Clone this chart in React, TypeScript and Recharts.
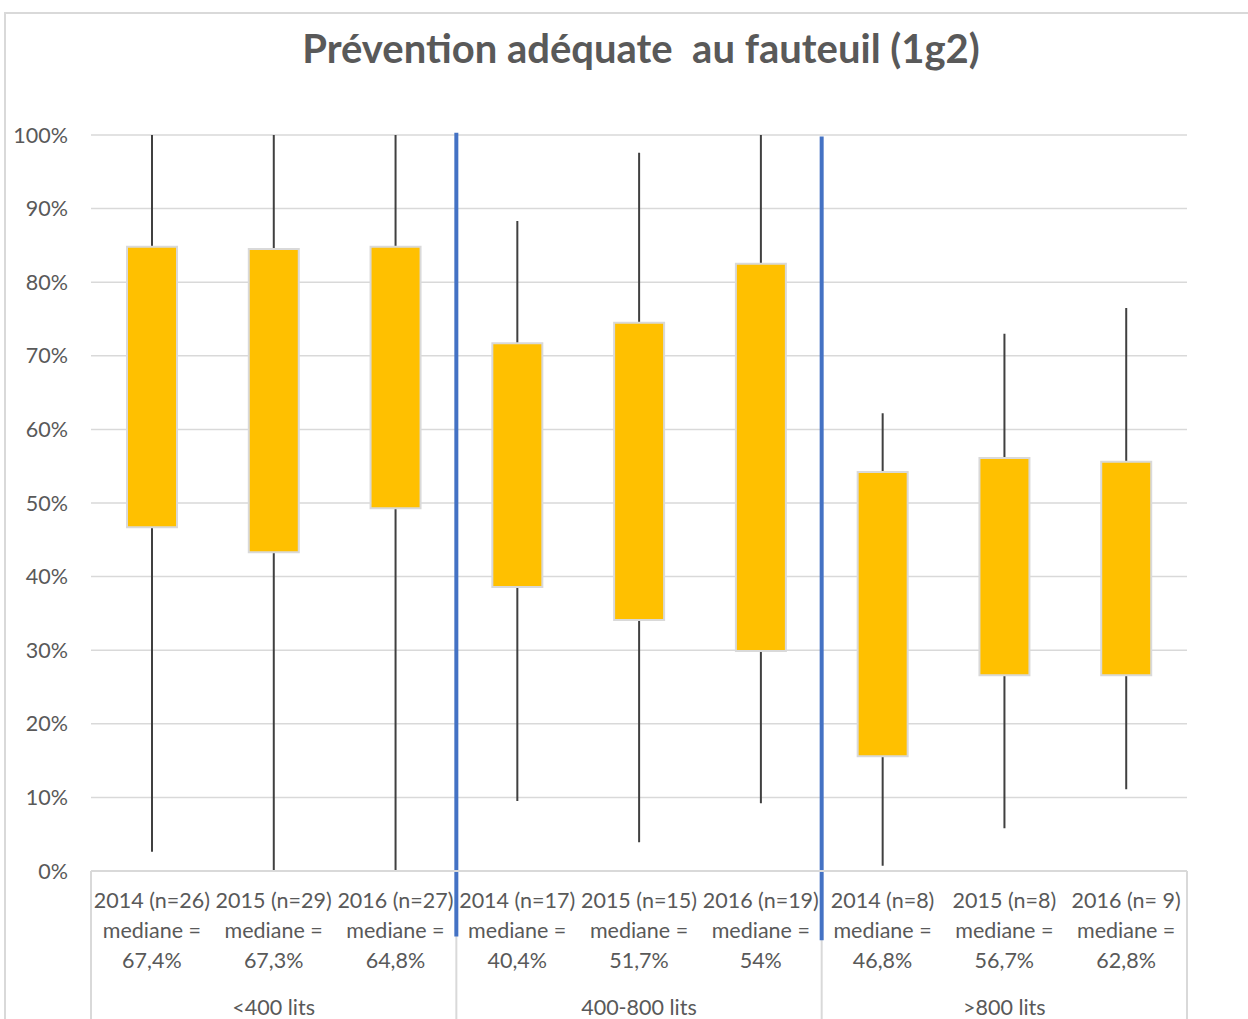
import React from 'react'
import {
  ComposedChart,
  Bar,
  XAxis,
  YAxis,
  CartesianGrid,
  ReferenceLine,
} from 'recharts'

const categories = [
  '2014 (n=26)', '2015 (n=29)', '2016 (n=27)',
  '2014 (n=17)', '2015 (n=15)', '2016 (n=19)',
  '2014 (n=8)', '2015 (n=8)', '2016 (n= 9)',
]
const medians = ['67,4%', '67,3%', '64,8%', '40,4%', '51,7%', '54%', '46,8%', '56,7%', '62,8%']
const minValues = [2.6, 0, 0, 9.5, 3.9, 9.2, 0.7, 5.8, 11.1]
const q1Values = [46.7, 43.3, 49.3, 38.6, 34.1, 29.9, 15.6, 26.6, 26.6]
const q3Values = [84.8, 84.5, 84.8, 71.7, 74.5, 82.5, 54.2, 56.1, 55.6]
const maxValues = [100, 100, 100, 88.3, 97.6, 100, 62.2, 73.0, 76.5]
const groups = ['<400 lits', '400-800 lits', '>800 lits']
const groupTicks = [1.5, 4.5, 7.5]
const groupBounds = [0, 3, 6, 9]
const blueBounds = [3, 6]
const yTicks = [0, 10, 20, 30, 40, 50, 60, 70, 80, 90, 100]

const data = categories.map((name, i) => ({
  name,
  pos: i + 0.5,
  whisker: [minValues[i], maxValues[i]],
  box: [q1Values[i], q3Values[i]],
}))

const FONT = 'Lato, "Liberation Sans", sans-serif'
const TEXT = '#595959'
const LIGHT = '#D9D9D9'

const CategoryTick = (props: any) => {
  const { x, y, payload, index } = props
  return (
    <text x={x} y={y} textAnchor="middle" fill={TEXT} fontSize={21.5} fontFamily={FONT}>
      <tspan x={x} dy={29}>{payload.value}</tspan>
      <tspan x={x} dy={30}>mediane =</tspan>
      <tspan x={x} dy={30}>{medians[index]}</tspan>
    </text>
  )
}

const GroupTick = (props: any) => {
  const { x, y, payload } = props
  return (
    <text x={x} y={y} dy={36} textAnchor="middle" fill={TEXT} fontSize={21.5} fontFamily={FONT}>
      {groups[groupTicks.indexOf(payload.value)]}
    </text>
  )
}

export default function App() {
  return (
    <div style={{ position: 'fixed', left: 0, top: 0, width: 1248, height: 1019, background: '#fff', overflow: 'hidden' }}>
      <div
        style={{
          position: 'absolute', left: 4, top: 12, width: 1260, height: 1020,
          borderTop: `2px solid ${LIGHT}`, borderLeft: `2px solid ${LIGHT}`,
        }}
      />
      <div
        style={{
          position: 'absolute', left: 0, top: 24, width: 1282, textAlign: 'center',
          fontFamily: FONT, fontWeight: 700, fontSize: 40, color: TEXT,
        }}
      >
        Prévention adéquate&nbsp; au fauteuil (1g2)
      </div>
      <div style={{ position: 'absolute', left: 0, top: 0 }}>
        <ComposedChart
          width={1248}
          height={1019}
          data={data}
          margin={{ top: 135, right: 61, bottom: 0, left: 0 }}
        >
          <CartesianGrid vertical={false} stroke={LIGHT} strokeWidth={1.5} />
          <YAxis
            domain={[0, 100]}
            ticks={yTicks}
            width={91}
            axisLine={false}
            tickLine={false}
            tickMargin={17}
            tickFormatter={(v: number) => `${v}%`}
            tick={{ fill: TEXT, fontSize: 21.5, fontFamily: FONT }}
          />
          <XAxis
            xAxisId="box"
            dataKey="name"
            height={100}
            interval={0}
            tickLine={false}
            axisLine={{ stroke: LIGHT, strokeWidth: 2 }}
            tick={<CategoryTick />}
          />
          <XAxis
            xAxisId="group"
            dataKey="pos"
            type="number"
            domain={[0, 9]}
            allowDataOverflow
            ticks={groupTicks}
            height={48}
            interval={0}
            axisLine={false}
            tickLine={false}
            tick={<GroupTick />}
          />
          <XAxis xAxisId="whisker" dataKey="name" hide />
          {groupBounds.map((b) => (
            <ReferenceLine
              key={`g${b}`}
              xAxisId="group"
              segment={[{ x: b, y: 0 }, { x: b, y: -20.2 }]}
              stroke={LIGHT}
              strokeWidth={2}
              ifOverflow="visible"
            />
          ))}
          <Bar
            xAxisId="whisker"
            dataKey="whisker"
            barSize={2}
            fill="#404040"
            isAnimationActive={false}
          />
          <Bar
            xAxisId="box"
            dataKey="box"
            barSize={50}
            fill="#FFC000"
            stroke={LIGHT}
            strokeWidth={2}
            isAnimationActive={false}
          />
          {blueBounds.map((b, i) => (
            <ReferenceLine
              key={`b${b}`}
              xAxisId="group"
              segment={[{ x: b, y: i === 0 ? 100.3 : 99.8 }, { x: b, y: i === 0 ? -8.9 : -9.4 }]}
              stroke="#4472C4"
              strokeWidth={4}
              ifOverflow="visible"
            />
          ))}
        </ComposedChart>
      </div>
    </div>
  )
}
